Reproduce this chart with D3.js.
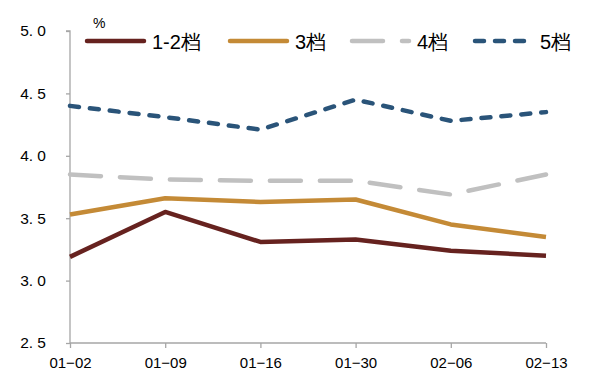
<!DOCTYPE html>
<html>
<head>
<meta charset="utf-8">
<script src="https://cdn.jsdelivr.net/npm/d3@7"></script>
<style>
  body { margin: 0; background: #fff; }
  svg { font-family: "Liberation Sans", Arial, sans-serif; }
</style>
</head>
<body>
<svg id="chart" width="596" height="377"></svg>
<script>
// Data
const dates = ["01-02", "01-09", "01-16", "01-30", "02-06", "02-13"];
const tier12 = [3.19, 3.55, 3.31, 3.33, 3.24, 3.20];
const tier3 = [3.53, 3.66, 3.63, 3.65, 3.45, 3.35];
const tier4 = [3.85, 3.81, 3.80, 3.80, 3.69, 3.85];
const tier5 = [4.40, 4.31, 4.21, 4.45, 4.28, 4.35];
const yTicks = [2.5, 3.0, 3.5, 4.0, 4.5, 5.0];

const series = [
    { name: "1-2档", values: tier12, color: "#66221F", dash: null },
    { name: "3档", values: tier3, color: "#C48A36", dash: null },
    { name: "4档", values: tier4, color: "#C0C0C0", dash: "31,19" },
    { name: "5档", values: tier5, color: "#2A5479", dash: "9,11" }
];

const svg = d3.select("#chart"),
    margin = {top: 31, right: 50, bottom: 34, left: 70},
    width = +svg.attr("width") - margin.left - margin.right,
    height = +svg.attr("height") - margin.top - margin.bottom;

const chart = svg.append("g").attr("transform", `translate(${margin.left},${margin.top})`);

// Scales
const x = d3.scalePoint().domain(dates).range([0, width]);
const y = d3.scaleLinear().domain([2.5, 5.0]).range([height, 0]);

// Axes
const yAxis = d3.axisLeft(y)
    .tickValues(yTicks)
    .tickSize(4)
    .tickFormat(d => d3.format(".1f")(d).replace(".", ". "));
const xAxis = d3.axisBottom(x).tickSize(5).tickFormat(d => d.replace("-", "\u2212"));

const gy = chart.append("g").call(yAxis);
gy.select(".domain").attr("d", `M-4,0H0V${height}`);
gy.selectAll("text").attr("x", -24).style("font-size", "15.5px").style("fill", "#000");

const gx = chart.append("g").attr("transform", `translate(0,${height})`).call(xAxis);
gx.select(".domain").attr("d", `M0,0H${width}`);
gx.selectAll("text").attr("y", 14).style("font-size", "15px").style("fill", "#000");

chart.selectAll(".domain, .tick line").attr("stroke", "#A6A6A6").attr("stroke-width", 1.3);

// Lines
const line = d3.line()
    .x((d, i) => x(dates[i]))
    .y(d => y(d));

series.forEach(s => {
    chart.append("path")
        .datum(s.values)
        .attr("fill", "none")
        .attr("stroke", s.color)
        .attr("stroke-width", 4.5)
        .attr("stroke-linecap", s.dash ? "round" : "butt")
        .attr("stroke-linejoin", "round")
        .attr("stroke-dasharray", s.dash)
        .attr("d", line);
});

// Unit label
svg.append("text")
    .attr("x", 93).attr("y", 28)
    .style("font-size", "14px")
    .text("%");

// Legend
const legendX = [87, 230, 352, 475];
const legend = svg.append("g").attr("transform", "translate(0,41)");
series.forEach((s, i) => {
    const g = legend.append("g").attr("transform", `translate(${legendX[i]},0)`);
    g.append("line")
        .attr("x1", 0).attr("x2", 57)
        .attr("y1", 0).attr("y2", 0)
        .attr("stroke", s.color)
        .attr("stroke-width", 4.5)
        .attr("stroke-linecap", "round")
        .attr("stroke-dasharray", s.dash);
    g.append("text")
        .attr("x", 65)
        .attr("y", 8)
        .style("font-size", "20px")
        .text(s.name);
});
</script>
</body>
</html>
